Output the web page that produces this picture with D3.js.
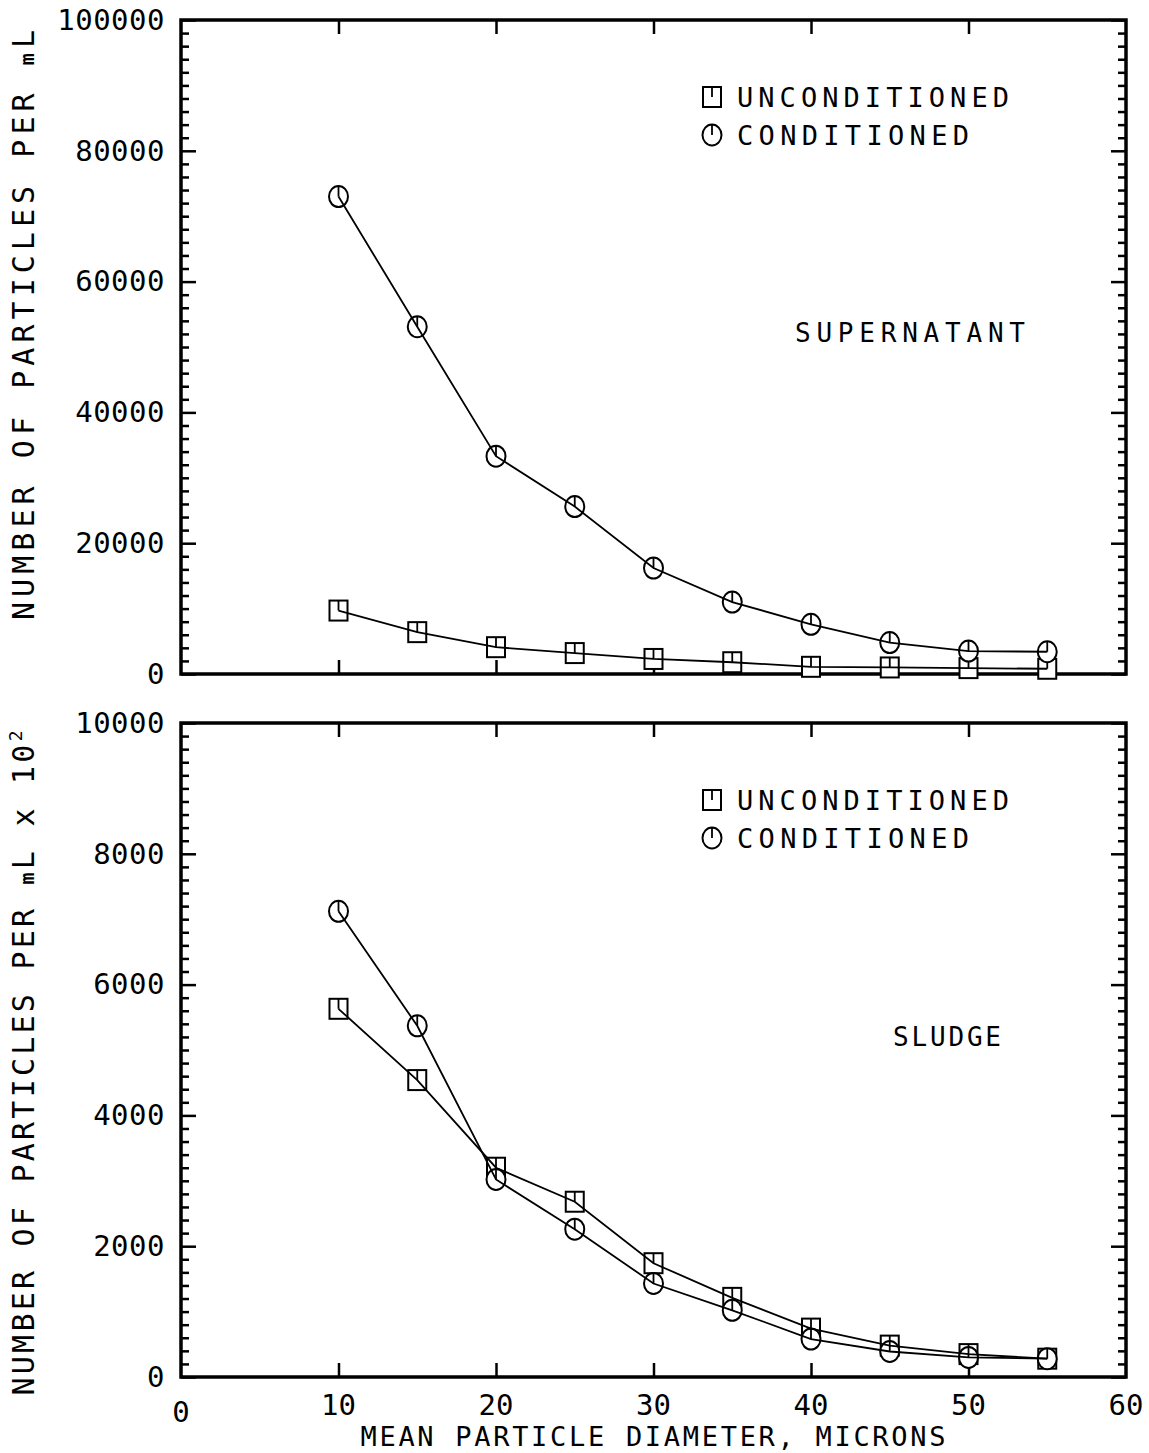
<!DOCTYPE html>
<html><head><meta charset="utf-8">
<script src="https://cdn.jsdelivr.net/npm/d3@7"></script>
<style>
body{margin:0;background:#fff;}
text{font-family:"DejaVu Sans Mono",monospace;fill:#000;}
</style></head>
<body>
<svg id="chart" width="1149" height="1453"></svg>
<script>
// ---- data ----
const diameters = [10, 15, 20, 25, 30, 35, 40, 45, 50, 55];
const superUncond = [9700, 6400, 4100, 3200, 2300, 1800, 1100, 1000, 900, 800];
const superCond   = [73000, 53100, 33300, 25600, 16200, 11000, 7600, 4800, 3500, 3400];
const sludgeUncond = [5630, 4540, 3200, 2680, 1740, 1210, 740, 480, 350, 280];
const sludgeCond   = [7120, 5370, 3020, 2260, 1430, 1020, 580, 390, 300, 280];
const xTicks = [0, 10, 20, 30, 40, 50, 60];
const superYTicks = [0, 20000, 40000, 60000, 80000, 100000];
const sludgeYTicks = [0, 2000, 4000, 6000, 8000, 10000];
const seriesNames = ["UNCONDITIONED", "CONDITIONED"];
const panelLabels = ["SUPERNATANT", "SLUDGE"];

const svg = d3.select("#chart");
const left = 181, right = 1126;
const x = d3.scaleLinear().domain([0, 60]).range([left, right]);
const FONT = "DejaVu Sans Mono";

function panel(top, bottom, yMax, minorStep, yTicks, uncond, cond, label, labelPos, legendY) {
  const y = d3.scaleLinear().domain([0, yMax]).range([bottom, top]);
  const g = svg.append("g");
  const minor = d3.range(0, yMax + 1e-9, minorStep).filter(v => yTicks.indexOf(v) < 0);

  const yl = g.append("g").attr("transform", `translate(${left},0)`)
    .call(d3.axisLeft(y).tickValues(yTicks).tickSize(-15).tickFormat(d3.format("d")).tickPadding(16));
  g.append("g").attr("transform", `translate(${left},0)`)
    .call(d3.axisLeft(y).tickValues(minor).tickSize(-8).tickFormat(""));
  g.append("g").attr("transform", `translate(${right},0)`)
    .call(d3.axisRight(y).tickValues(yTicks).tickSize(-15).tickFormat(""));
  g.append("g").attr("transform", `translate(${right},0)`)
    .call(d3.axisRight(y).tickValues(minor).tickSize(-8).tickFormat(""));
  g.append("g").attr("transform", `translate(0,${bottom})`)
    .call(d3.axisBottom(x).tickValues(xTicks.slice(1, -1)).tickSize(-14).tickFormat(""));
  g.append("g").attr("transform", `translate(0,${top})`)
    .call(d3.axisTop(x).tickValues(xTicks.slice(1, -1)).tickSize(-14).tickFormat(""));

  g.selectAll(".domain").remove();
  g.selectAll(".tick line").attr("stroke", "#000").attr("stroke-width", 2.5);
  yl.selectAll(".tick text").attr("font-size", 29).attr("fill", "#000").attr("font-family", FONT)
    .attr("letter-spacing", 0.5);

  g.append("rect").attr("x", left).attr("y", top).attr("width", right - left).attr("height", bottom - top)
    .attr("fill", "none").attr("stroke", "#000").attr("stroke-width", 3.5);

  const line = d3.line().x((d, i) => x(diameters[i])).y(d => y(d));

  function square(sel, cx, cy) {
    sel.append("rect").attr("x", cx - 9).attr("y", cy - 10).attr("width", 18).attr("height", 20)
      .attr("fill", "#fff").attr("stroke", "#000").attr("stroke-width", 2);
    sel.append("line").attr("x1", cx).attr("x2", cx).attr("y1", cy - 10).attr("y2", cy).attr("stroke", "#000").attr("stroke-width", 1.8);
  }
  function circle(sel, cx, cy) {
    sel.append("ellipse").attr("cx", cx).attr("cy", cy).attr("rx", 9.5).attr("ry", 10.5)
      .attr("fill", "#fff").attr("stroke", "#000").attr("stroke-width", 2);
    sel.append("line").attr("x1", cx).attr("x2", cx).attr("y1", cy - 10.5).attr("y2", cy).attr("stroke", "#000").attr("stroke-width", 1.8);
  }
  const mk = g.append("g");
  uncond.forEach((v, i) => square(mk, x(diameters[i]), y(v)));
  cond.forEach((v, i) => circle(mk, x(diameters[i]), y(v)));
  [uncond, cond].forEach(vals => {
    g.append("path").attr("d", line(vals)).attr("fill", "none").attr("stroke", "#000").attr("stroke-width", 1.8);
  });

  const lg = g.append("g");
  square(lg, 712, legendY);
  circle(lg, 712, legendY + 38);
  lg.append("text").attr("x", 737).attr("y", legendY + 10).attr("font-size", 27)
    .attr("textLength", 272).attr("lengthAdjust", "spacing").text(seriesNames[0]);
  lg.append("text").attr("x", 737).attr("y", legendY + 48).attr("font-size", 27)
    .attr("textLength", 232).attr("lengthAdjust", "spacing").text(seriesNames[1]);

  g.append("text").attr("x", labelPos[0]).attr("y", labelPos[1]).attr("font-size", 26)
    .attr("textLength", labelPos[2]).attr("lengthAdjust", "spacing").text(label);
  return y;
}

panel(20, 674, 100000, 2000, superYTicks, superUncond, superCond, panelLabels[0], [795, 342, 230], 97);
panel(723, 1377, 10000, 200, sludgeYTicks, sludgeUncond, sludgeCond, panelLabels[1], [893, 1046, 108], 800);

svg.append("g").selectAll("text").data(xTicks).enter().append("text")
  .attr("x", d => x(d)).attr("y", d => d === 0 ? 1422 : 1415).attr("text-anchor", "middle")
  .attr("font-size", 29).text(d => d);

svg.append("text").attr("x", 653).attr("y", 1446).attr("text-anchor", "middle").attr("font-size", 27)
  .attr("textLength", 585).attr("lengthAdjust", "spacing").text("MEAN PARTICLE DIAMETER, MICRONS");

const t1 = svg.append("text").attr("transform", "translate(34,325) rotate(-90)").attr("text-anchor", "middle")
  .attr("font-size", 30).attr("textLength", 590).attr("lengthAdjust", "spacing");
t1.append("tspan").text("NUMBER OF PARTICLES PER ");
t1.append("tspan").attr("font-size", 20).attr("font-weight", "bold").text("m");
t1.append("tspan").text("L");
const t2 = svg.append("text").attr("transform", "translate(34,1063) rotate(-90)").attr("text-anchor", "middle")
  .attr("font-size", 30).attr("textLength", 665).attr("lengthAdjust", "spacing");
t2.append("tspan").text("NUMBER OF PARTICLES PER ");
t2.append("tspan").attr("font-size", 20).attr("font-weight", "bold").text("m");
t2.append("tspan").text("L x 10");
t2.append("tspan").attr("dy", -12).attr("font-size", 18).text("2");
</script>
</body></html>
